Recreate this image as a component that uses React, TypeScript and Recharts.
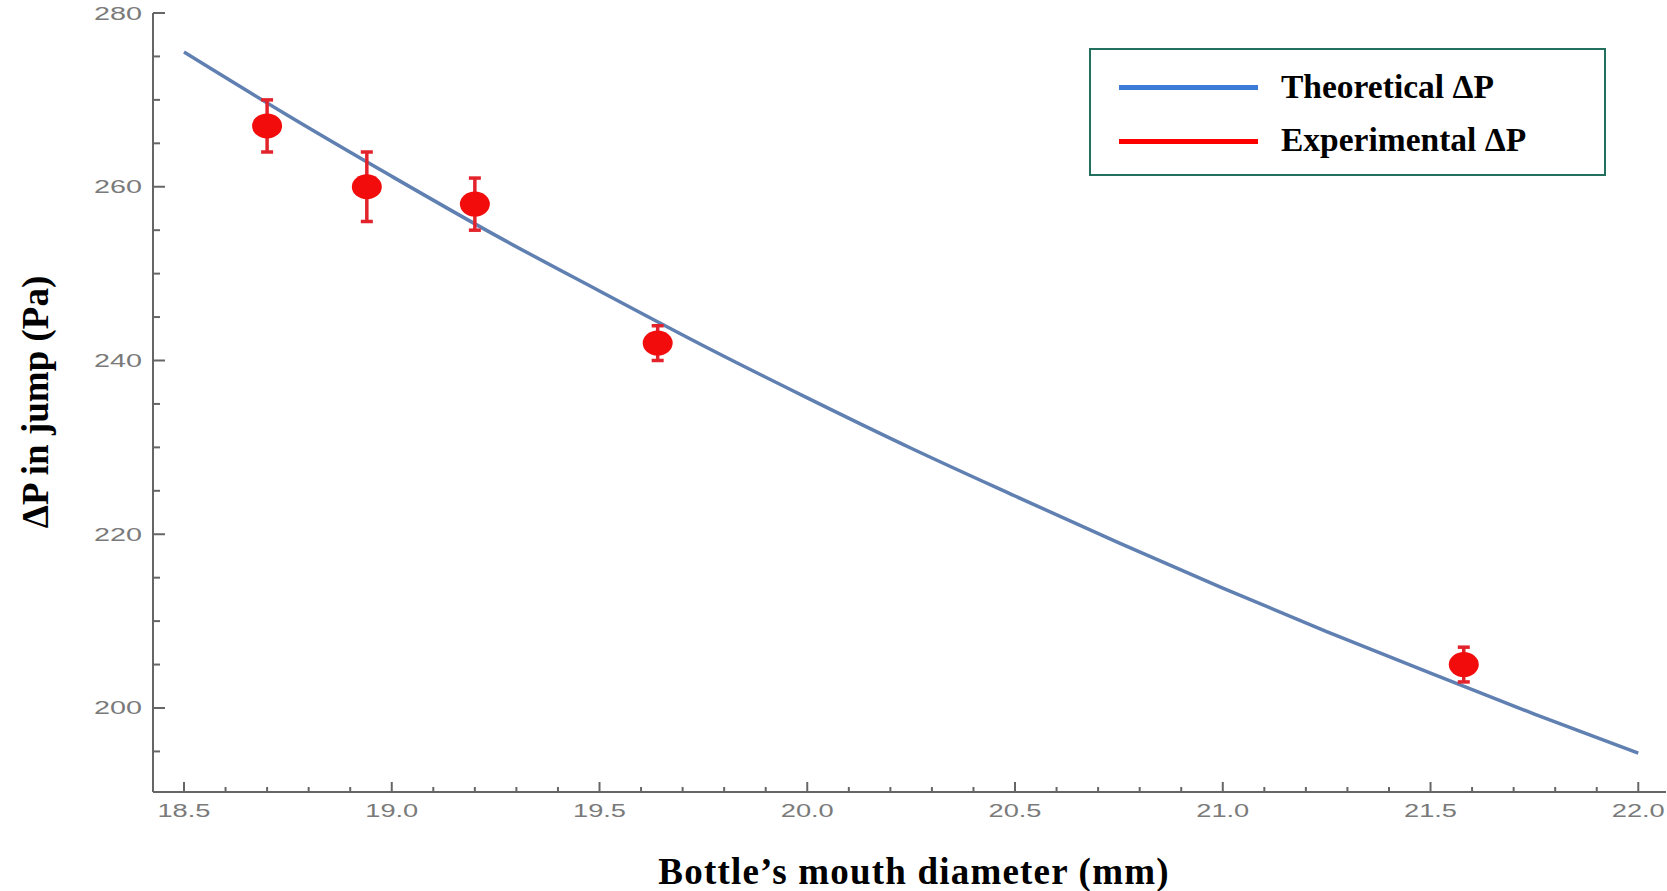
import { ComposedChart, Line, Scatter, ErrorBar, XAxis, YAxis } from 'recharts'

// theoretical curve
const curveX = [18.5, 18.75, 19.0, 19.25, 19.5, 19.75, 20.0, 20.25, 20.5, 20.75, 21.0, 21.25, 21.5, 21.75, 22.0]
const curveY = [275.5, 268.2, 261.2, 254.4, 248.0, 241.7, 235.7, 229.9, 224.4, 219.0, 213.8, 208.8, 204.0, 199.3, 194.8]

// measured points with error
const pointX = [18.7, 18.94, 19.2, 19.64, 21.58]
const pointY = [267, 260, 258, 242, 205]
const pointErr = [3, 4, 3, 2, 2]

const xTicks = [
  18.5, 18.6, 18.7, 18.8, 18.9, 19.0, 19.1, 19.2, 19.3, 19.4, 19.5, 19.6, 19.7, 19.8, 19.9,
  20.0, 20.1, 20.2, 20.3, 20.4, 20.5, 20.6, 20.7, 20.8, 20.9, 21.0, 21.1, 21.2, 21.3, 21.4,
  21.5, 21.6, 21.7, 21.8, 21.9, 22.0,
]
const xMajorTicks = [18.5, 19.0, 19.5, 20.0, 20.5, 21.0, 21.5, 22.0]
const yTicks = [195, 200, 205, 210, 215, 220, 225, 230, 235, 240, 245, 250, 255, 260, 265, 270, 275, 280]
const yMajorTicks = [200, 220, 240, 260, 280]

const curveData = curveX.map((x, i) => ({ x, y: curveY[i] }))
const pointData = pointX.map((x, i) => ({ x, y: pointY[i], err: pointErr[i] }))

const AXIS = '#666'
const TICK_TEXT = '#7a7a7a'
const SERIF = '"Liberation Serif", "Times New Roman", serif'

const labelWidth = (s: string) => s.replace('.', '').length * 16 + (s.includes('.') ? 5 : 0)

const tickText = {
  fill: TICK_TEXT,
  fontFamily: '"Liberation Sans", Arial, sans-serif',
  fontSize: 18,
}

const BottomTick = ({ x, y, payload }: any) => {
  const major = xMajorTicks.includes(payload.value)
  const label = payload.value.toFixed(1)
  return (
    <g>
      <line x1={x} x2={x} y1={y} y2={y - (major ? 10 : 5)} stroke={AXIS} strokeWidth={2} />
      {major && (
        <text x={x} y={y + 25} textAnchor='middle' textLength={labelWidth(label)} lengthAdjust='spacingAndGlyphs' {...tickText}>
          {label}
        </text>
      )}
    </g>
  )
}

const TopTick = ({ x, y, payload }: any) => {
  const major = xMajorTicks.includes(payload.value)
  return <line x1={x} x2={x} y1={y} y2={y + (major ? 10 : 5)} stroke={AXIS} strokeWidth={2} />
}

const LeftTick = ({ x, y, payload }: any) => {
  const major = yMajorTicks.includes(payload.value)
  const label = String(payload.value)
  return (
    <g>
      <line x1={x} x2={x + (major ? 12 : 7)} y1={y} y2={y} stroke={AXIS} strokeWidth={2} />
      {major && (
        <text x={x - 11 - labelWidth(label)} y={y + 6.5} textLength={labelWidth(label)} lengthAdjust='spacingAndGlyphs' {...tickText}>
          {label}
        </text>
      )}
    </g>
  )
}

const RightTick = ({ x, y, payload }: any) => {
  const major = yMajorTicks.includes(payload.value)
  return <line x1={x} x2={x - (major ? 12 : 7)} y1={y} y2={y} stroke={AXIS} strokeWidth={2} />
}

const Dot = (p: any) => <ellipse cx={p.cx} cy={p.cy} rx={15} ry={12.5} fill='#f20c0c' />

const xDomain = [18.4254, 22.0667]
const yDomain = [190.33, 280]

const App = () => {
  return (
    <div style={{ position: 'absolute', top: 0, left: 0, width: 1667, height: 891, background: '#fff', overflow: 'hidden' }}>
      <ComposedChart width={1667} height={891} margin={{ top: 13, right: 1, bottom: 0, left: 0 }}>
        <XAxis
          xAxisId={0}
          dataKey='x'
          type='number'
          domain={xDomain}
          allowDataOverflow
          ticks={xTicks}
          interval={0}
          height={99}
          tickSize={0}
          tickMargin={0}
          tick={<BottomTick />}
          axisLine={{ stroke: AXIS, strokeWidth: 2 }}
          tickLine={false}
        />
        <XAxis
          xAxisId='top'
          orientation='top'
          dataKey='x'
          type='number'
          domain={xDomain}
          allowDataOverflow
          ticks={xTicks}
          interval={0}
          height={0}
          tickSize={0}
          tickMargin={0}
          tick={<TopTick />}
          axisLine={{ stroke: AXIS, strokeWidth: 2 }}
          tickLine={false}
        />
        <YAxis
          yAxisId={0}
          type='number'
          domain={yDomain}
          allowDataOverflow
          ticks={yTicks}
          interval={0}
          width={153}
          tickSize={0}
          tickMargin={0}
          tick={<LeftTick />}
          axisLine={{ stroke: AXIS, strokeWidth: 2 }}
          tickLine={false}
        />
        <YAxis
          yAxisId='right'
          orientation='right'
          type='number'
          domain={yDomain}
          allowDataOverflow
          ticks={yTicks}
          interval={0}
          width={0}
          tickSize={0}
          tickMargin={0}
          tick={<RightTick />}
          axisLine={{ stroke: AXIS, strokeWidth: 2 }}
          tickLine={false}
        />
        <Line
          data={curveData}
          dataKey='y'
          type='monotone'
          stroke='#6080b2'
          strokeWidth={3.5}
          dot={false}
          activeDot={false}
          isAnimationActive={false}
        />
        <Scatter data={pointData} dataKey='y' shape={<Dot />} isAnimationActive={false}>
          <ErrorBar dataKey='err' direction='y' width={6} stroke='#e3232b' strokeWidth={3.5} />
        </Scatter>
      </ComposedChart>

      {/* legend box */}
      <div
        style={{
          position: 'absolute',
          left: 1089,
          top: 48,
          width: 513,
          height: 124,
          border: '2px solid #23705f',
          background: '#fff',
        }}
      >
        <div style={{ position: 'absolute', left: 28, top: 35, width: 139, height: 5, background: '#3d7bd9' }} />
        <div style={{ position: 'absolute', left: 28, top: 89, width: 139, height: 5, background: '#ff0000' }} />
        <div style={{ position: 'absolute', left: 190, top: 20, fontFamily: SERIF, fontWeight: 'bold', fontSize: 33.5, lineHeight: '33px', whiteSpace: 'nowrap' }}>
          Theoretical ΔP
        </div>
        <div style={{ position: 'absolute', left: 190, top: 73, fontFamily: SERIF, fontWeight: 'bold', fontSize: 33.5, lineHeight: '33px', whiteSpace: 'nowrap' }}>
          Experimental ΔP
        </div>
      </div>

      {/* axis titles */}
      <div
        style={{
          position: 'absolute',
          left: 514,
          width: 800,
          top: 853,
          textAlign: 'center',
          fontFamily: SERIF,
          fontWeight: 'bold',
          fontSize: 37,
          lineHeight: '37px',
          letterSpacing: 1.2,
          whiteSpace: 'nowrap',
        }}
      >
        Bottle’s mouth diameter (mm)
      </div>
      <div
        style={{
          position: 'absolute',
          left: 35,
          top: 402,
          transform: 'translate(-50%, -50%) rotate(-90deg)',
          fontFamily: SERIF,
          fontWeight: 'bold',
          fontSize: 37,
          lineHeight: '37px',
          whiteSpace: 'nowrap',
        }}
      >
        ΔP in jump (Pa)
      </div>
    </div>
  )
}

export default App
